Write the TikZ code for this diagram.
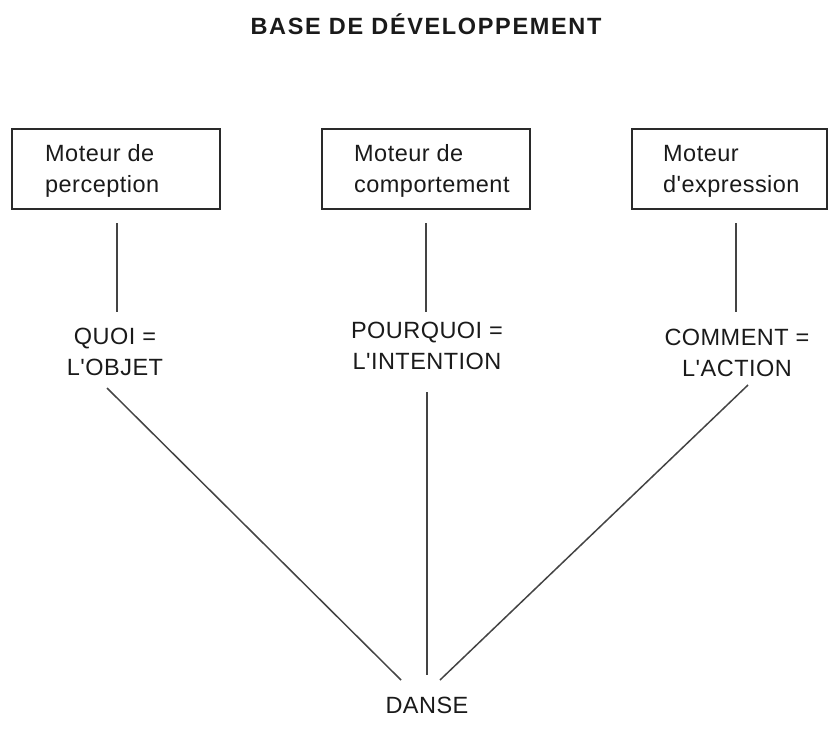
\documentclass[tikz,border=0pt]{standalone}
\usepackage{fontspec}
\setmainfont{Liberation Sans}
\newfontfamily\lblfont[LetterSpace=2]{Liberation Sans}
\newfontfamily\ttlfont[LetterSpace=7]{Liberation Sans Bold}
\definecolor{ink}{HTML}{1A1A1A}
\definecolor{boxline}{HTML}{2A2A2A}
\definecolor{linkline}{HTML}{444444}
\tikzset{
  motorbox/.style={draw=boxline, line width=2pt, rectangle, inner sep=0pt},
  boxtext/.style={anchor=base west, inner sep=0pt, text=ink, font=\lblfont\fontsize{23.5}{30}\selectfont},
  lbl/.style={align=center, inner sep=0pt, text=ink, font=\lblfont\fontsize{23.5}{31}\selectfont},
  link/.style={draw=linkline, line width=1.5pt},
}
\begin{document}
\begin{tikzpicture}[x=1pt,y=-1pt]
\useasboundingbox (0,0) rectangle (830,742);
% title
\node[anchor=base, inner sep=0pt, text=ink, font=\ttlfont\fontsize{23.5}{26}\selectfont] (title) at (426,34) {BASE DE DÉVELOPPEMENT};
% boxes
\node[motorbox, minimum width=208pt, minimum height=80pt] (b1) at (116,169) {};
\node[motorbox, minimum width=208pt, minimum height=80pt] (b2) at (426,169) {};
\node[motorbox, minimum width=195pt, minimum height=80pt] (b3) at (729.5,169) {};
\node[boxtext] (t1a) at (45,161) {Moteur de};
\node[boxtext] (t1b) at (45,192) {perception};
\node[boxtext] (t2a) at (354,161) {Moteur de};
\node[boxtext] (t2b) at (354,192) {comportement};
\node[boxtext] (t3a) at (663,161) {Moteur};
\node[boxtext] (t3b) at (663,192) {d'expression};
% labels
\node[lbl] (q1) at (115,352) {QUOI =\\L'OBJET};
\node[lbl] (q2) at (427,346) {POURQUOI =\\L'INTENTION};
\node[lbl] (q3) at (737,353) {COMMENT =\\L'ACTION};
\node[lbl] (danse) at (427,705) {DANSE};
% connector end points
\coordinate (v1a) at (117,223); \coordinate (v1b) at (117,312);
\coordinate (v2a) at (426,223); \coordinate (v2b) at (426,312);
\coordinate (v3a) at (736,223); \coordinate (v3b) at (736,312);
\coordinate (d1a) at (107,388); \coordinate (d1b) at (401,680);
\coordinate (d2a) at (427,392); \coordinate (d2b) at (427,675);
\coordinate (d3a) at (748,385); \coordinate (d3b) at (440,680);
% connectors
\draw[link] (v1a) -- (v1b);
\draw[link] (v2a) -- (v2b);
\draw[link] (v3a) -- (v3b);
\draw[link] (d1a) -- (d1b);
\draw[link] (d2a) -- (d2b);
\draw[link] (d3a) -- (d3b);
\end{tikzpicture}
\end{document}
